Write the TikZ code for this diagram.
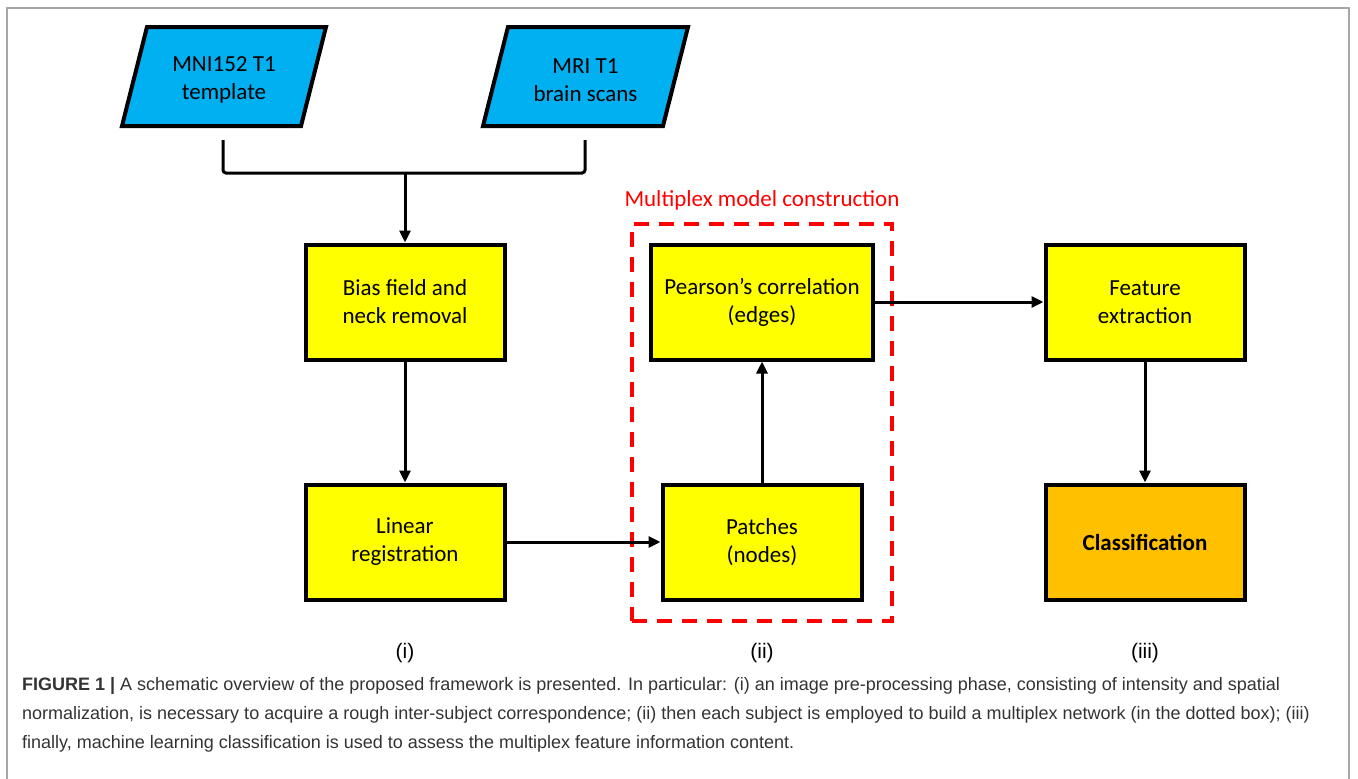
\documentclass[tikz,border=0pt]{standalone}
\usepackage{fontspec}
\setmainfont{Carlito}
\newfontfamily\capfont{Liberation Sans}
\usetikzlibrary{positioning, arrows.meta, fit}
\definecolor{scanblue}{HTML}{00B0F0}
\definecolor{stageyellow}{HTML}{FFFF00}
\definecolor{classorange}{HTML}{FFC000}
\definecolor{captiongray}{HTML}{333333}

\begin{document}
\begin{tikzpicture}[x=1pt, y=-1pt,
    stage/.style={rectangle,
      draw,
      line width=4pt,
      fill=stageyellow,
      minimum width=199pt,
      minimum height=115pt,
      align=center,
      font=\fontsize{23}{28}\selectfont},
    scan/.style={draw,
      line width=4pt,
      fill=scanblue},
    scantext/.style={align=center,
      font=\fontsize{23}{28}\selectfont},
    flow/.style={line width=3pt, -{Triangle[length=12pt,width=11pt]}},
    phase/.style={font=\capfont\fontsize{21}{24}\selectfont},
    captionline/.style={anchor=base west, inner sep=0pt,
      text=captiongray, font=\capfont\fontsize{18}{20}\selectfont}]
  \useasboundingbox (0,0) rectangle (1358,779);

  % FRAME

  \draw[gray!70, line width=1.2pt] (7,779) -- (7,8) -- (1349,8) -- (1349,779);

  % INPUTS

  \draw[scan] (122,126) -- (147,27) -- (326,27) -- (301,126) -- cycle;
  \draw[scan] (483,126) -- (508,27) -- (688,27) -- (663,126) -- cycle;
  \node[scantext] (template) at (224,80) {MNI152 T1\\template};
  \node[scantext] (scans) at (585.5,80) {MRI T1\\brain scans};

  \coordinate (joinL) at (223,140);
  \coordinate (joinM) at (405,173);
  \coordinate (joinR) at (585,140);
  \draw[line width=3pt, rounded corners=3pt] (joinL) |- (joinM) -| (joinR);

  % PRE-PROCESSING

  \node[stage] (bias) at (405,302) {Bias field and\\neck removal};
  \node[stage, below=121pt of bias] (linear) {Linear\\registration};

  % MULTIPLEX MODEL

  \node[stage, minimum width=222pt] (pearson) at (762,302) {Pearson’s correlation\\(edges)};
  \node[stage, below=121pt of pearson] (patches) {Patches\\(nodes)};

  \node[draw=red,
    line width=4pt,
    dash pattern=on 15pt off 10pt,
    inner xsep=17pt,
    inner ysep=19pt,
    fit=(pearson)(patches)] (multiplex) {};
  \node[above=11pt of multiplex.north, text=red, inner sep=0pt,
    font=\fontsize{23}{28}\selectfont] (multiplextitle) {Multiplex model construction};

  % CLASSIFICATION

  \node[stage] (feature) at (1145,302) {Feature\\extraction};
  \node[stage, fill=classorange, below=121pt of feature] (classify) {\textbf{Classification}};

  % CONNECTORS

  \draw[flow] (joinM) -- (bias);
  \draw[flow] (bias) -- (linear);
  \draw[flow] (linear) -- (patches);
  \draw[flow] (patches) -- (pearson);
  \draw[flow] (pearson) -- (pearson -| feature.west);
  \draw[flow] (feature) -- (classify);

  % PHASES

  \node[phase] (phasei) at (405,653) {(i)};
  \node[phase] (phaseii) at (762,653) {(ii)};
  \node[phase] (phaseiii) at (1145,653) {(iii)};

  % CAPTION

  \node[captionline] (capone) at (22,690) {\textbf{FIGURE 1 |} A schematic overview of the proposed framework is presented. In particular: (i) an image pre-processing phase, consisting of intensity and spatial};
  \node[captionline] (captwo) at (22,719) {normalization, is necessary to acquire a rough inter-subject correspondence; (ii) then each subject is employed to build a multiplex network (in the dotted box); (iii)};
  \node[captionline] (capthree) at (22,748) {finally, machine learning classification is used to assess the multiplex feature information content.};
\end{tikzpicture}
\end{document}
